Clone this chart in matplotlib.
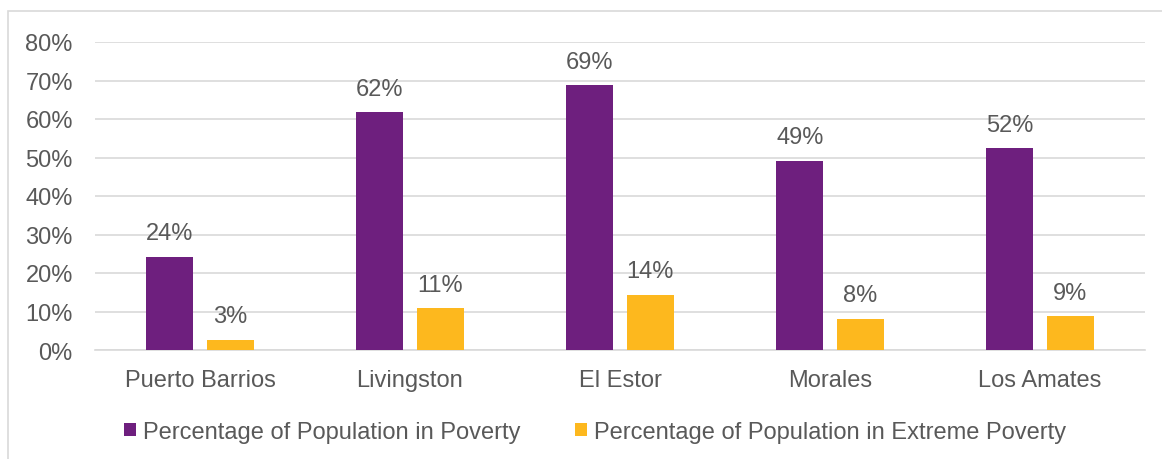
import matplotlib.pyplot as plt
import numpy as np
from matplotlib.patches import Rectangle
from matplotlib.ticker import PercentFormatter

plt.rcParams['font.family'] = ['Liberation Sans', 'DejaVu Sans']

municipios = ['Puerto Barrios', 'Livingston', 'El Estor', 'Morales', 'Los Amates']
poverty = [0.242, 0.618, 0.688, 0.491, 0.524]
extreme = [0.026, 0.109, 0.143, 0.081, 0.088]
series_names = ['Percentage of Population in Poverty',
                'Percentage of Population in Extreme Poverty']

purple = '#6E1F7E'
gold = '#FDB81E'
txt = '#595959'
grid = '#D9D9D9'
fs = 17

fig = plt.figure(figsize=(11.62, 4.6), dpi=100)
ax = fig.add_axes([95 / 1162, 1 - 351 / 460, 1050 / 1162, 308 / 460])

# light frame around the chart
fig.patches.append(Rectangle((8 / 1162, -0.05), 1.2, 1 - 12 / 460 + 0.05,
                             transform=fig.transFigure, fill=False,
                             edgecolor='#D9D9D9', linewidth=1.2))

x = np.arange(len(municipios))
w = 0.224
off = 0.143
b1 = ax.bar(x - off, poverty, w, color=purple, label=series_names[0], zorder=3)
b2 = ax.bar(x + off, extreme, w, color=gold, label=series_names[1], zorder=3)

for bars, vals in ((b1, poverty), (b2, extreme)):
    for r, v in zip(bars, vals):
        ax.annotate(f'{round(v * 100):.0f}%', (r.get_x() + r.get_width() / 2, v),
                    xytext=(0, 9), textcoords='offset points',
                    ha='center', va='bottom', fontsize=fs, color=txt)

ax.set_xlim(-0.5, len(municipios) - 0.5)
ax.set_ylim(0, 0.8)
ax.set_yticks(np.arange(0, 0.81, 0.1))
ax.yaxis.set_major_formatter(PercentFormatter(1.0, decimals=0))
ax.set_xticks(x)
ax.set_xticklabels(municipios)
ax.tick_params(axis='both', length=0, labelsize=fs, labelcolor=txt)
ax.tick_params(axis='y', pad=16)
ax.tick_params(axis='x', pad=14)

ax.grid(axis='y', color=grid, linewidth=1.2, zorder=0)
for s in ('top', 'right', 'left'):
    ax.spines[s].set_visible(False)
ax.spines['bottom'].set_color(grid)
ax.spines['bottom'].set_linewidth(1.2)

fig.legend(loc='center', bbox_to_anchor=(595 / 1162, 1 - 433 / 460), ncol=2,
           frameon=False, fontsize=fs, labelcolor=txt,
           handlelength=0.5, handleheight=0.5, handletextpad=0.3,
           columnspacing=2.3)

fig.savefig('out.png', dpi=100)
